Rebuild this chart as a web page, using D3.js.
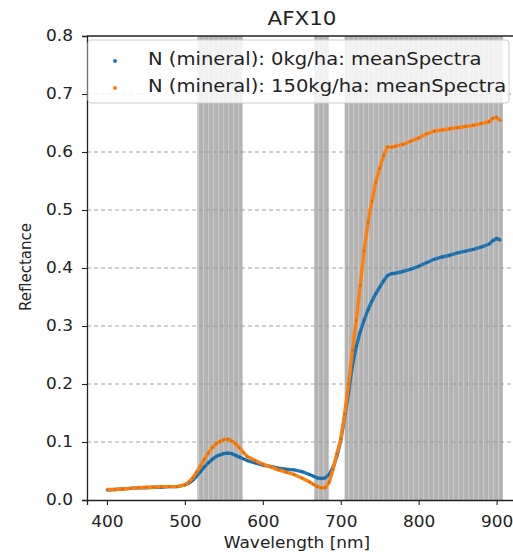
<!DOCTYPE html>
<html lang="en">
<head>
<meta charset="UTF-8">
<title>AFX10</title>
<script src="https://cdn.jsdelivr.net/npm/d3@7"></script>
<style>
  body { margin: 0; background: #fff; }
  text { font-family: "DejaVu Sans", sans-serif; fill: #222; }
</style>
</head>
<body>
<script>
// wavelengths (nm) shared by both series
const wavelengths = [400,410,420,430,440,450,460,470,480,490,500,
  505,510,515,520,525,530,535,540,545,550,555,560,565,570,575,580,
  590,600,610,620,630,640,650,660,
  665,670,675,680,685,690,695,700,705,710,715,720,725,730,735,740,745,750,755,760,765,770,
  780,790,800,810,820,830,840,850,860,870,880,890,
  895,900,905];

const n0 = [0.017,0.018,0.019,0.020,0.021,0.021,0.022,0.022,0.023,0.023,0.026,
  0.029,0.034,0.041,0.049,0.057,0.064,0.070,0.075,0.078,0.080,0.081,0.080,0.077,0.074,0.071,0.068,
  0.064,0.060,0.058,0.055,0.053,0.052,0.049,0.044,
  0.041,0.038,0.037,0.038,0.044,0.056,0.075,0.103,0.143,0.185,0.232,0.265,0.290,0.310,0.328,0.343,0.356,0.367,0.378,0.387,0.390,0.391,
  0.394,0.398,0.403,0.409,0.415,0.419,0.422,0.426,0.429,0.432,0.436,0.441,
  0.447,0.451,0.448];

const n150 = [0.018,0.018,0.019,0.020,0.021,0.022,0.022,0.023,0.023,0.023,0.026,
  0.031,0.038,0.048,0.059,0.070,0.081,0.090,0.097,0.101,0.104,0.105,0.102,0.097,0.090,0.082,0.075,
  0.068,0.062,0.057,0.052,0.048,0.044,0.038,0.031,
  0.027,0.023,0.021,0.021,0.030,0.052,0.080,0.105,0.148,0.200,0.258,0.310,0.370,0.430,0.478,0.515,0.548,0.572,0.594,0.609,0.608,0.610,
  0.613,0.619,0.624,0.631,0.636,0.638,0.640,0.642,0.644,0.646,0.649,0.652,
  0.658,0.660,0.654];

// selected wavelength regions (gray bands)
const bands = [[516, 574], [666, 685], [705, 908]];

const seriesNames = ["N (mineral): 0kg/ha: meanSpectra", "N (mineral): 150kg/ha: meanSpectra"];
const seriesColors = ["#1f77b4", "#ff7f0e"];
const yTicks = [0, 0.1, 0.2, 0.3, 0.4, 0.5, 0.6, 0.7, 0.8];
const xTicks = [400, 500, 600, 700, 800, 900];

const width = 513, height = 555;
const mLeft = 87, mTop = 36, mRight = 520, mBottom = 500;
const sx = 1.13; // the reference text is a bit wide

const svg = d3.select("body").append("svg")
  .attr("width", width).attr("height", height);

const x = d3.scaleLinear().domain([374.4, 930]).range([mLeft, mRight]);
const y = d3.scaleLinear().domain([0, 0.8]).range([mBottom, mTop]);

// stretch text horizontally around its own x
function stretch(sel) {
  sel.each(function () {
    const tx = +this.getAttribute("x") || 0;
    this.setAttribute("transform", `translate(${tx},0) scale(${sx},1) translate(${-tx},0)`);
  });
}
function label(g, px, py, size, str, anchor, k) {
  return g.append("text")
    .attr("transform", `translate(${px},${py}) scale(${k || sx},1)`)
    .attr("text-anchor", anchor || "start")
    .style("font-size", size + "px").text(str);
}

// stripe pattern for the bands
const defs = svg.append("defs");
const pat = defs.append("pattern").attr("id", "stripes")
  .attr("patternUnits", "userSpaceOnUse").attr("width", 5).attr("height", 10);
pat.append("rect").attr("width", 5).attr("height", 10).attr("fill", "#b3b3b3");
pat.append("rect").attr("x", 3).attr("width", 1.2).attr("height", 10).attr("fill", "#c9c9c9");

defs.append("clipPath").attr("id", "plotclip").append("rect")
  .attr("x", mLeft).attr("y", mTop).attr("width", mRight - mLeft).attr("height", mBottom - mTop);

const plot = svg.append("g").attr("clip-path", "url(#plotclip)");

plot.selectAll("rect.band").data(bands).enter().append("rect")
  .attr("class", "band")
  .attr("x", d => x(d[0])).attr("width", d => x(d[1]) - x(d[0]))
  .attr("y", mTop).attr("height", mBottom - mTop)
  .attr("fill", "url(#stripes)");

// grid
plot.selectAll("line.grid").data(yTicks.slice(1, -1)).enter().append("line")
  .attr("x1", mLeft).attr("x2", mRight)
  .attr("y1", d => y(d)).attr("y2", d => y(d))
  .attr("stroke", "#999").attr("stroke-width", 0.9).attr("stroke-dasharray", "4,3");

const rows = wavelengths.map((w, i) => ({ w, a: n0[i], b: n150[i] }));
const line = key => d3.line().x(d => x(d.w)).y(d => y(d[key]));

["a", "b"].forEach((k, i) => {
  plot.append("path").datum(rows)
    .attr("fill", "none").attr("stroke", seriesColors[i])
    .attr("stroke-width", 3.4).attr("stroke-linejoin", "round")
    .attr("d", line(k));
  plot.selectAll("circle.s" + k).data(rows).enter().append("circle")
    .attr("cx", d => x(d.w)).attr("cy", d => y(d[k])).attr("r", 1.3)
    .attr("fill", d3.color(seriesColors[i]).darker(1)).attr("opacity", 0.5);
});

// axes
const xAxis = svg.append("g").attr("transform", `translate(0,${mBottom})`)
  .call(d3.axisBottom(x).tickValues(xTicks).tickSize(5).tickPadding(11));
const yAxis = svg.append("g").attr("transform", `translate(${mLeft},0)`)
  .call(d3.axisLeft(y).tickValues(yTicks).tickFormat(d3.format(".1f")).tickSize(5).tickPadding(9));
[xAxis, yAxis].forEach(a => {
  a.select(".domain").attr("stroke", "#222").attr("stroke-width", 1.3);
  a.selectAll(".tick line").attr("stroke", "#222").attr("stroke-width", 1.1);
  a.selectAll("text").style("font-size", "15px").attr("fill", "#222").call(stretch);
});
// top spine
svg.append("line").attr("x1", mLeft).attr("x2", mRight).attr("y1", mTop).attr("y2", mTop)
  .attr("stroke", "#222").attr("stroke-width", 1.3);

// title and labels
label(svg, 302, 25, 19, "AFX10", "middle");
label(svg, 297, 548, 15, "Wavelength [nm]", "middle");
svg.append("text").attr("transform", `translate(31,267) rotate(-90)`)
  .attr("text-anchor", "middle").style("font-size", "15px").text("Reflectance");

// legend
const lg = svg.append("g");
lg.append("rect").attr("x", 88).attr("y", 40).attr("width", 421).attr("height", 63)
  .attr("rx", 3).attr("fill", "#fff").attr("fill-opacity", 0.82)
  .attr("stroke", "#ccc").attr("stroke-width", 1);
seriesNames.forEach((s, i) => {
  const yy = 65 + i * 27;
  lg.append("circle").attr("cx", 115).attr("cy", yy - 4).attr("r", 2).attr("fill", seriesColors[i]);
  label(lg, 148, yy, 17, s, "start", 1.15);
});
</script>
</body>
</html>
